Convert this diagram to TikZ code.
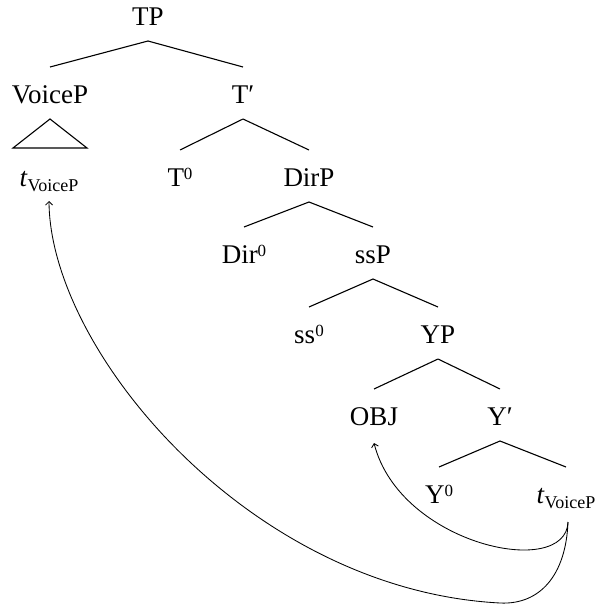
\documentclass[tikz,border=0pt]{standalone}
\usepackage{fontspec}
\setmainfont{Liberation Serif}
\usetikzlibrary{arrows.meta}

% labels of the tree
\newcommand{\headzero}[1]{#1\raisebox{7pt}{\fontsize{17}{20}\selectfont 0}}
\newcommand{\tracevp}{\textit{t}\raisebox{-5pt}{\fontsize{18}{20}\selectfont VoiceP}}

\begin{document}
\begin{tikzpicture}[x=1pt,y=-1pt,
  lbl/.style={inner sep=0pt,anchor=base,font=\fontsize{27}{31}\selectfont},
  branch/.style={line width=1.1pt},
  movearrow/.style={line width=0.85pt,-{Straight Barb[length=3.5pt,width=7pt]}}]
\useasboundingbox (0,0) rectangle (600,605);

% nodes, placed on their baselines
\node[lbl] (tp)     at (148,25)  {TP};
\node[lbl] (voicep) at (50,103)  {VoiceP};
\node[lbl] (tbar)   at (243,103) {T′};
\node[lbl] (tv1)    at (49,186)  {\tracevp};
\node[lbl] (t0)     at (180,186) {\headzero{T}};
\node[lbl] (dirp)   at (309,186) {DirP};
\node[lbl] (dir0)   at (244,263) {\headzero{Dir}};
\node[lbl] (ssp)    at (373,263) {ssP};
\node[lbl] (ss0)    at (309,343) {\headzero{ss}};
\node[lbl] (yp)     at (438,343) {YP};
\node[lbl] (obj)    at (374,425) {OBJ};
\node[lbl] (ybar)   at (500,425) {Y′};
\node[lbl] (y0)     at (439,503) {\headzero{Y}};
\node[lbl] (tv2)    at (566,503) {\tracevp};

% branches
\foreach \p/\c in {tp/voicep, tp/tbar, tbar/t0, tbar/dirp, dirp/dir0, dirp/ssp,
                   ssp/ss0, ssp/yp, yp/obj, yp/ybar, ybar/y0, ybar/tv2}
  \draw[branch] ([yshift=-16pt]\p.base) -- ([yshift=36pt]\c.base);

% VoiceP triangle
\draw[branch] ([xshift=-37pt,yshift=-45pt]voicep.base) -- ([yshift=-16pt]voicep.base)
  -- ([xshift=37pt,yshift=-45pt]voicep.base) -- cycle;

% movement arrows
\coordinate (foot) at ([xshift=2pt,yshift=-19pt]tv2.base);
\coordinate (low)  at (500,603);
\draw[movearrow] (foot) .. controls (566,580) and (400,545) .. ([yshift=-18pt]obj.base);
\draw[movearrow] (foot) .. controls (566,575) and (540,605) .. (low)
  .. controls (250,590) and (50,351) .. ([yshift=-15pt]tv1.base);
\end{tikzpicture}
\end{document}
